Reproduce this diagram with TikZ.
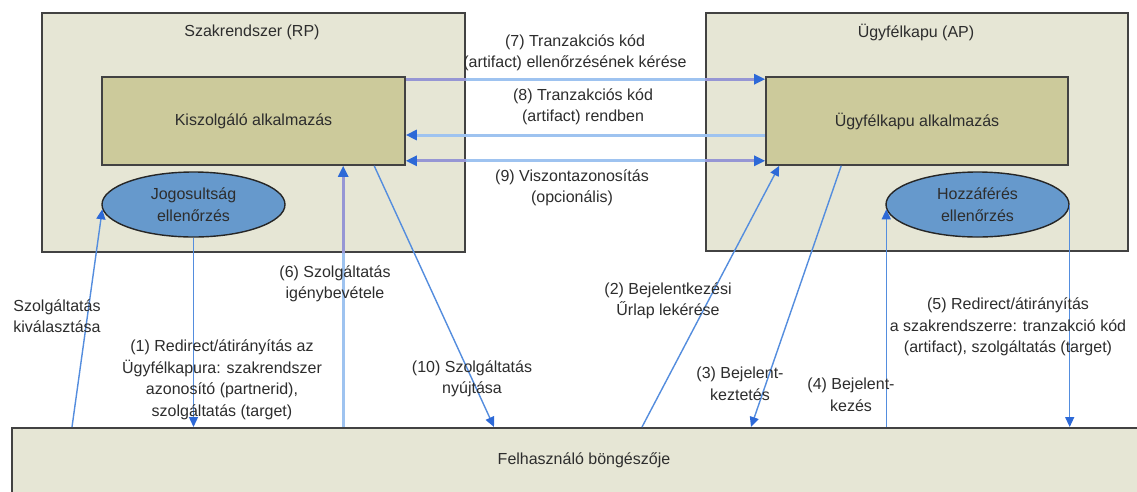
\documentclass[tikz,border=0pt]{standalone}
\usepackage{fontspec}
\setmainfont{Liberation Sans}
\usetikzlibrary{arrows.meta,shapes.geometric,calc}
\definecolor{outerfill}{RGB}{230,230,213}
\definecolor{innerfill}{RGB}{204,202,155}
\definecolor{ellfill}{RGB}{102,153,204}
\definecolor{edge}{RGB}{66,66,66}
\definecolor{txt}{RGB}{45,45,45}
\definecolor{thinblue}{RGB}{84,141,222}
\definecolor{tipblue}{RGB}{45,105,215}
\definecolor{thickblue}{RGB}{158,195,240}
\definecolor{thickpurple}{RGB}{150,150,212}
\begin{document}
\begin{tikzpicture}[x=1pt,y=-1pt,
  every node/.style={font=\fontsize{16}{21.5}\selectfont, text=txt, align=center, inner sep=0pt},
  outerbox/.style={draw=edge, line width=2pt, fill=outerfill, rectangle},
  innerbox/.style={draw=edge, line width=1.6pt, fill=innerfill, rectangle},
  ellbox/.style={draw=black!85, line width=1.4pt, fill=ellfill, ellipse},
  thintip/.tip={Triangle[length=10pt,width=9pt,color=tipblue]},
  thicktip/.tip={Triangle[length=11pt,width=10pt,color=tipblue]},
  thinln/.style={draw=thinblue, line width=1.4pt, -thintip},
  thickln/.style={draw=thickblue, line width=3pt, -thicktip},
  thickdbl/.style={draw=thickblue, line width=3pt, thicktip-thicktip},
  overln/.style={draw=thickpurple, line width=3pt}
]
\useasboundingbox (0,0) rectangle (1137,491);
\clip (0,0) rectangle (1137,491);
\fill[white] (0,0) rectangle (1137,491);

% containers
\node[outerbox, minimum width=423pt, minimum height=239pt] (rp) at (253.5,132.5) {};
\node[outerbox, minimum width=422pt, minimum height=238pt] (ap) at (917,132) {};
\node[outerbox, minimum width=1133pt, minimum height=72pt] (br) at (578.5,464) {};

\node (rpT) at (252,32) {Szakrendszer (RP)};
\node (apT) at (916,32) {Ügyfélkapu (AP)};
\node (brT) at (584,460) {Felhasználó böngészője};

% inner boxes
\node[innerbox, minimum width=303pt, minimum height=88pt] (ks) at (253.5,121) {Kiszolgáló alkalmazás};
\node[innerbox, minimum width=302pt, minimum height=88pt] (ua) at (917,121) {Ügyfélkapu alkalmazás};
\node[ellbox, minimum width=183pt, minimum height=65pt] (jog) at (193.5,204.5) {Jogosultság\\ellenőrzés};
\node[ellbox, minimum width=183pt, minimum height=65pt] (hoz) at (977.5,204.5) {Hozzáférés\\ellenőrzés};

% helper coordinates
\coordinate (c7a) at ([yshift=-3pt]ks.north east);
\coordinate (c7b) at ([yshift=-3pt]ua.north west);
\coordinate (c8a) at ([yshift=-14pt]ua.west);
\coordinate (c8b) at ([yshift=-14pt]ks.east);
\coordinate (c9a) at ([yshift=5pt]ks.south east);
\coordinate (c9b) at ([yshift=5pt]ua.south west);
\coordinate (c6) at ([xshift=242pt]ks.south west);
\coordinate (c10a) at ([xshift=273pt]ks.south west);
\coordinate (c10b) at ([xshift=483pt]br.north west);
\coordinate (csel) at ([xshift=61pt]br.north west);
\coordinate (c2a) at ([xshift=631pt]br.north west);
\coordinate (c2b) at ([xshift=14pt]ua.south west);
\coordinate (c3a) at ([xshift=76pt]ua.south west);
\coordinate (c3b) at ([xshift=740pt]br.north west);

% thick connectors
\draw[thickln] (c7a) -- (c7b);
\draw[thickln] (c8a) -- (c8b);
\draw[thickdbl] (c9a) -- (c9b);
\draw[thickln] (br.north -| c6) -- (c6);
\begin{scope}
  \clip (rp.north west) rectangle (rp.south east) (ap.north west) rectangle (ap.south east);
  \draw[overln, shorten >=11pt] (c7a) -- (c7b);
  \draw[overln, shorten >=11pt, shorten <=11pt] (c9a) -- (c9b);
  \draw[overln, shorten >=11pt] (br.north -| c6) -- (c6);
\end{scope}

% thin connectors
\draw[thinln] (csel) -- (jog.183);
\draw[thinln] (jog.south) -- (br.north -| jog.south);
\draw[thinln] (c10a) -- (c10b);
\draw[thinln] (c2a) -- (c2b);
\draw[thinln] (c3a) -- (c3b);
\draw[thinln] (br.north -| hoz.183) -- (hoz.183);
\draw[thinln] (hoz.east) -- (br.north -| hoz.east);

% labels
\node (l7) at (575,53) {(7) Tranzakciós kód\\(artifact) ellenőrzésének kérése};
\node (l8) at (583,107) {(8) Tranzakciós kód\\(artifact) rendben};
\node (l9) at (572,188) {(9) Viszontazonosítás\\(opcionális)};
\node (lsel) at (57,316) {Szolgáltatás\\kiválasztása};
\node (l6) at (335,284) {(6) Szolgáltatás\\igénybevétele};
\node (l1) at (222,380) {(1) Redirect/átirányítás az\\Ügyfélkapura: szakrendszer\\azonosító (partnerid),\\szolgáltatás (target)};
\node (l10) at (472,379) {(10) Szolgáltatás\\nyújtása};
\node (l2) at (668,301) {(2) Bejelentkezési\\Űrlap lekérése};
\node (l3) at (740,384) {(3) Bejelent-\\keztetés};
\node (l4) at (851,395) {(4) Bejelent-\\kezés};
\node (l5) at (1008,327) {(5) Redirect/átirányítás\\a szakrendszerre: tranzakció kód\\(artifact), szolgáltatás (target)};
\end{tikzpicture}
\end{document}
